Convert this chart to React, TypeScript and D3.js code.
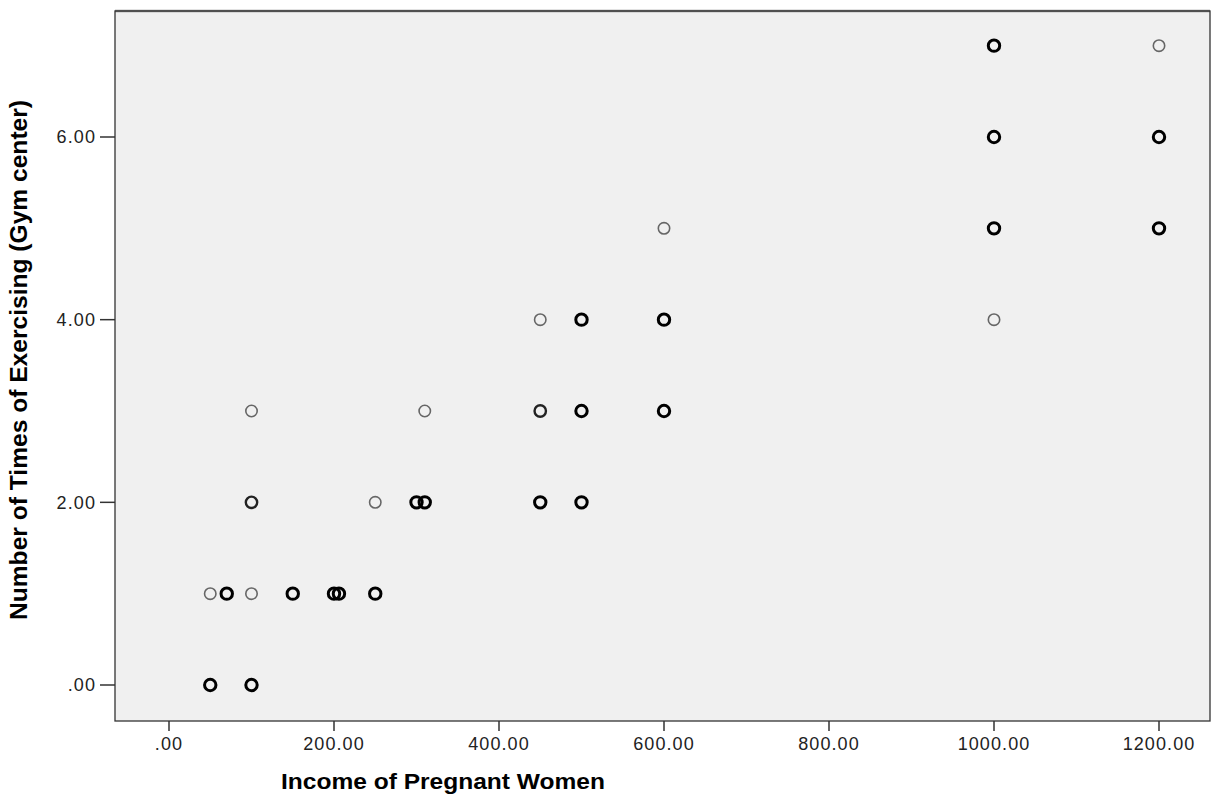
import React from 'react'
import * as d3 from 'd3'

// scatter points; count = how many cases sit on the same spot
const income = [1000, 1200, 1000, 1200, 600, 1000, 1200, 450, 500, 600, 1000, 100, 310, 450, 500, 600, 100, 250, 300, 310, 450, 500, 50, 70, 100, 150, 200, 206, 250, 50, 100]
const times = [7, 7, 6, 6, 5, 5, 5, 4, 4, 4, 4, 3, 3, 3, 3, 3, 2, 2, 2, 2, 2, 2, 1, 1, 1, 1, 1, 1, 1, 0, 0]
const count = [3, 1, 3, 3, 1, 3, 3, 1, 3, 3, 1, 1, 1, 2, 3, 3, 2, 1, 3, 3, 3, 3, 1, 3, 1, 3, 3, 3, 3, 3, 3]

const xTicks = [0, 200, 400, 600, 800, 1000, 1200]
const yTicks = [0, 2, 4, 6]

const xTitle = 'Income of Pregnant Women'
const yTitle = 'Number of Times  of Exercising (Gym center)'

const W = 1212
const H = 794
const left = 115, right = 1210, top = 11, bottom = 721

const fmt = (v: number) => d3.format('.2f')(v).replace(/^0\./, '.')

export default function App() {
  const x = d3.scaleLinear().domain([0, 1200]).range([169, 1159])
  const y = d3.scaleLinear().domain([0, 6]).range([685, 137])
  const pts = income.map((v, i) => ({ x: v, y: times[i], n: count[i] }))

  return (
    <svg width={W} height={H} style={{ position: 'absolute', left: 0, top: 0, background: '#fff' }}>
      <rect x={left} y={top} width={right - left} height={bottom - top} fill="#f0f0f0" />
      <line x1={left} x2={right} y1={top} y2={top} stroke="#888" strokeWidth={2.5} />
      <rect x={left} y={top} width={right - left} height={bottom - top} fill="none" stroke="#333" strokeWidth={1.3} />

      {xTicks.map(t => (
        <g key={'x' + t} transform={`translate(${x(t)},0)`}>
          <line y1={bottom} y2={bottom + 10} stroke="#333" strokeWidth={1.5} />
          <text y={bottom + 29} textAnchor="middle" fontFamily="Liberation Sans, Arial, sans-serif" fontSize={18} letterSpacing={1.1} fill="#222">{fmt(t)}</text>
        </g>
      ))}
      {yTicks.map(t => (
        <g key={'y' + t} transform={`translate(0,${y(t)})`}>
          <line x1={left - 15} x2={left} stroke="#333" strokeWidth={1.5} />
          <text x={left - 19} dy="0.35em" textAnchor="end" fontFamily="Liberation Sans, Arial, sans-serif" fontSize={18} letterSpacing={1.1} fill="#222">{fmt(t)}</text>
        </g>
      ))}

      {pts.map((p, i) => (
        <circle key={i} cx={x(p.x)} cy={y(p.y)} r={5.7} fill="none"
          stroke={p.n === 1 ? '#666' : p.n === 2 ? '#222' : '#000'}
          strokeWidth={p.n === 1 ? 1.6 : p.n === 2 ? 2.4 : 3} />
      ))}

      <text x={443} y={789} textAnchor="middle" fontFamily="Liberation Sans, Arial, sans-serif" fontWeight="bold" fontSize={22}
        textLength={324} lengthAdjust="spacingAndGlyphs" fill="#000">{xTitle}</text>
      <text transform="translate(27,360) rotate(-90)" textAnchor="middle" fontFamily="Liberation Sans Narrow, Liberation Sans, Arial, sans-serif" fontWeight="bold" fontSize={23}
        textLength={520} lengthAdjust="spacingAndGlyphs" fill="#000">{yTitle}</text>
    </svg>
  )
}
